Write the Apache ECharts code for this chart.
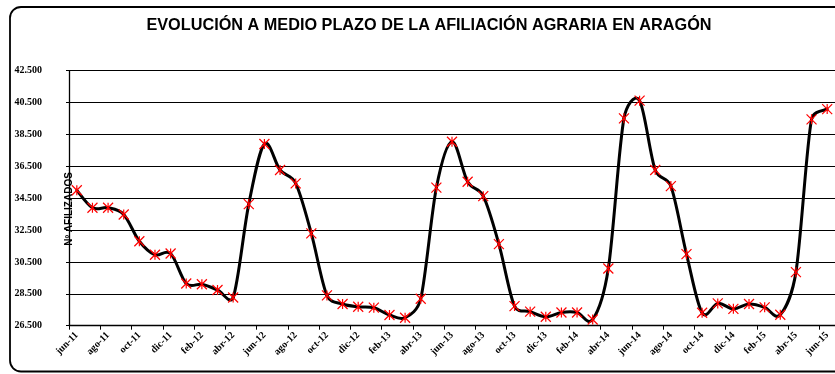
<!DOCTYPE html>
<html>
<head>
<meta charset="utf-8">
<style>
  html, body { margin: 0; padding: 0; background: #ffffff; }
  #chart { width: 835px; height: 374px; }
</style>
<script src="https://cdn.jsdelivr.net/npm/echarts@6/dist/echarts.min.js"></script>
</head>
<body>
<div id="chart"></div>
<script>
// Monthly categories, jun-2011 to jun-2015
const months = [
  'jun-11','jul-11','ago-11','sep-11','oct-11','nov-11','dic-11',
  'ene-12','feb-12','mar-12','abr-12','may-12','jun-12','jul-12','ago-12','sep-12','oct-12','nov-12','dic-12',
  'ene-13','feb-13','mar-13','abr-13','may-13','jun-13','jul-13','ago-13','sep-13','oct-13','nov-13','dic-13',
  'ene-14','feb-14','mar-14','abr-14','may-14','jun-14','jul-14','ago-14','sep-14','oct-14','nov-14','dic-14',
  'ene-15','feb-15','mar-15','abr-15','may-15','jun-15'
];

// Nº de afiliados agrarios por mes
const afiliados = [
  35000, 33900, 33900, 33480, 31800, 30950, 31030,
  29150, 29100, 28740, 28270, 34130, 37900, 36270, 35430, 32290, 28400, 27860, 27690,
  27630, 27170, 27000, 28190, 35160, 38040, 35530, 34630, 31620, 27730, 27380, 27060,
  27330, 27330, 26890, 30090, 39510, 40620, 36270, 35260, 30990, 27310, 27900, 27560,
  27860, 27650, 27190, 29860, 39450, 40090
];

// Value axis range and step
const yMin = 26500;
const yMax = 42500;
const yStep = 2000;

const titleText = 'EVOLUCIÓN A MEDIO PLAZO DE LA AFILIACIÓN AGRARIA EN ARAGÓN';
const yAxisTitle = 'Nº AFILIZADOS';

const chart = echarts.init(document.getElementById('chart'), null, { renderer: 'canvas' });

const fmt = v => String(Math.round(v)).replace(/\B(?=(\d{3})+(?!\d))/g, '.');

const plotLeft = 69;
const plotTop = 70.7;
const plotBottom = 325.7;
const stepX = 15.85;

const dist = (a, b) => Math.hypot(b[0] - a[0], b[1] - a[1]);

// Smoothed curve: one cubic Bezier per segment. Tangents use 1/6 of the
// neighbour difference, limited so a control arm never exceeds half the
// segment length. Positions come from api.coord.
function renderSmooth(params, api) {
  const i = params.dataIndex;
  const n = afiliados.length;
  if (i >= n - 1) return null;
  const pt = k => {
    const kk = Math.max(0, Math.min(n - 1, k));
    return api.coord([kk, afiliados[kk]]);
  };
  const p0 = pt(i - 1), p1 = pt(i), p2 = pt(i + 1), p3 = pt(i + 2);
  const f = 1 / 6;
  const d02 = dist(p0, p2), d12 = dist(p1, p2), d13 = dist(p1, p3);
  const f1 = (d02 / 6 < d12 / 2 || d02 === 0) ? f : d12 / d02 / 2;
  const f2 = (d13 / 6 < d12 / 2 || d13 === 0) ? f : d12 / d13 / 2;
  return {
    type: 'bezierCurve',
    shape: {
      x1: p1[0], y1: p1[1],
      x2: p2[0], y2: p2[1],
      cpx1: p1[0] + (p2[0] - p0[0]) * f1,
      cpy1: p1[1] + (p2[1] - p0[1]) * f1,
      cpx2: p2[0] - (p3[0] - p1[0]) * f2,
      cpy2: p2[1] - (p3[1] - p1[1]) * f2
    },
    style: { stroke: '#000000', lineWidth: 3, fill: null, lineCap: 'round', lineJoin: 'round' },
    silent: true
  };
}

chart.setOption({
  backgroundColor: '#ffffff',
  animation: false,
  title: {
    text: titleText,
    left: 424,
    textAlign: 'center',
    top: 13,
    textStyle: {
      fontFamily: 'Liberation Sans, Arial, sans-serif',
      fontWeight: 'bold',
      fontSize: 16.25,
      color: '#000000'
    }
  },
  grid: {
    left: plotLeft,
    top: plotTop,
    width: stepX * months.length,
    height: plotBottom - plotTop,
    containLabel: false
  },
  xAxis: {
    type: 'category',
    data: months,
    boundaryGap: true,
    axisLine: { show: true, lineStyle: { color: '#000000', width: 1.3 } },
    axisTick: { show: true, interval: 1, length: 4, lineStyle: { color: '#000000', width: 1 } },
    axisLabel: {
      interval: 1,
      rotate: 45,
      margin: 8,
      fontFamily: 'Liberation Serif, Times New Roman, serif',
      fontWeight: 'bold',
      fontSize: 10,
      color: '#000000'
    },
    splitLine: { show: false }
  },
  yAxis: {
    type: 'value',
    min: yMin,
    max: yMax,
    interval: yStep,
    axisLine: { show: true, lineStyle: { color: '#000000', width: 1.3 } },
    axisTick: { show: true, length: 3, lineStyle: { color: '#000000', width: 1 } },
    axisLabel: {
      margin: 27,
      formatter: fmt,
      fontFamily: 'Liberation Serif, Times New Roman, serif',
      fontWeight: 'bold',
      fontSize: 10,
      color: '#000000'
    },
    splitLine: { show: true, lineStyle: { color: '#000000', width: 1.2 } }
  },
  graphic: [
    {
      type: 'rect',
      shape: { x: 10, y: 7, width: 850, height: 364.5, r: 11 },
      style: { fill: 'none', stroke: '#000000', lineWidth: 1.8 },
      silent: true,
      z: 100
    },
    {
      type: 'text',
      x: 69,
      y: 209,
      rotation: Math.PI / 2,
      style: {
        text: yAxisTitle,
        fontFamily: 'Liberation Sans, Arial, sans-serif',
        fontSize: 10,
        fontWeight: 'bold',
        fill: '#000000',
        align: 'center',
        verticalAlign: 'middle'
      },
      z: 100
    }
  ],
  series: [
    {
      type: 'custom',
      data: afiliados.map((v, i) => [i, v]),
      encode: { x: 0, y: 1 },
      renderItem: renderSmooth,
      clip: false,
      z: 2
    },
    {
      type: 'scatter',
      data: afiliados,
      symbol: 'path://M0 0 L10 10 M10 0 L0 10 M5 0 L5 10',
      symbolSize: 10,
      itemStyle: { color: 'none', borderColor: '#ff0000', borderWidth: 1.2, opacity: 1 },
      emphasis: { disabled: true },
      clip: false,
      z: 3
    }
  ]
});
</script>
</body>
</html>
